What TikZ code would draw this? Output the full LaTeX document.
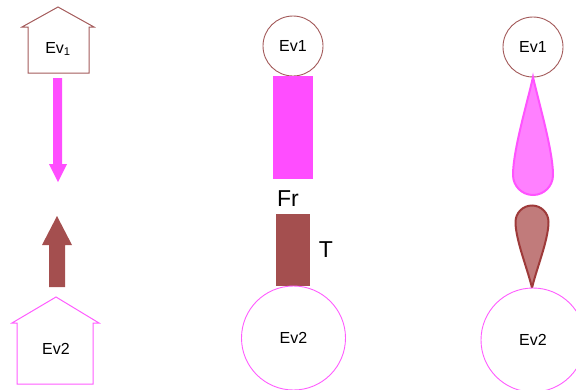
\documentclass[tikz,border=0pt]{standalone}
\usepackage{fontspec}
\setmainfont{Liberation Sans}
\definecolor{pinkfill}{HTML}{FF4DFF}
\definecolor{pinkline}{HTML}{FF5CFF}
\definecolor{pinksoft}{HTML}{FF80FF}
\definecolor{brownfill}{HTML}{A44F4F}
\definecolor{brownline}{HTML}{A35A5A}
\definecolor{brownsoft}{HTML}{C17B7B}
\definecolor{browndark}{HTML}{9E3A3A}
\tikzset{
  label/.style={font=\fontsize{16}{18}\selectfont, inner sep=0pt},
  biglabel/.style={font=\fontsize{23}{25}\selectfont, inner sep=0pt},
  house/.style={line width=1pt},
  event/.style={circle, draw, line width=0.9pt, fill=white}
}
\begin{document}
\begin{tikzpicture}[x=1pt,y=-1pt]
\useasboundingbox (0,0) rectangle (576,389);

% ---- left column: houses and block arrows ----
\draw[house, brownline] (28,73) -- (28,27) -- (22,27) -- (58,7) -- (94,27) -- (89,27) -- (89,73) -- cycle;
\node[label] (h1) at (58,49) {Ev\textsubscript{1}};
\fill[pinkfill] (53,78) -- (62,78) -- (62,164) -- (67,164) -- (58,182) -- (49,164) -- (53,164) -- cycle;

\fill[brownfill] (49,287) -- (65,287) -- (65,245) -- (72,245) -- (57,216) -- (42,245) -- (49,245) -- cycle;
\draw[house, pinkline] (17,384) -- (17,323) -- (12,323) -- (56,297) -- (99,323) -- (93,323) -- (93,384) -- cycle;
\node[label] (h2) at (56,349) {Ev2};

% ---- middle column: circles and bars ----
\node[event, draw=brownline, minimum size=60pt, label] (m1) at (293,46) {Ev1};
\fill[pinkfill] (273,76) rectangle (313,179);
\node[biglabel] (fr) at (288,199) {Fr};
\fill[brownfill] (276,214) rectangle (310,286);
\node[biglabel] (t) at (326,250) {T};
\node[event, draw=pinkline, minimum size=104pt, label] (m2) at (293.5,338) {Ev2};

% ---- right column: circles and drops ----
\node[event, draw=brownline, minimum size=60pt, label] (r1) at (533,47) {Ev1};
\draw[line width=2pt, draw=pinkline!90!magenta, fill=pinksoft]
  (533,77) .. controls (538,100) and (553,150) .. (553,175)
  arc[start angle=0, end angle=180, radius=20]
  .. controls (513,150) and (528,100) .. (533,77) -- cycle;
\draw[line width=2pt, draw=browndark, fill=brownsoft]
  (532,288) .. controls (536,270) and (548.5,240) .. (548.5,222)
  arc[start angle=0, end angle=-180, radius=16.5]
  .. controls (515.5,240) and (528,270) .. (532,288) -- cycle;
\node[event, draw=pinkline, minimum size=104pt, label] (r2) at (533,340) {Ev2};
\end{tikzpicture}
\end{document}
